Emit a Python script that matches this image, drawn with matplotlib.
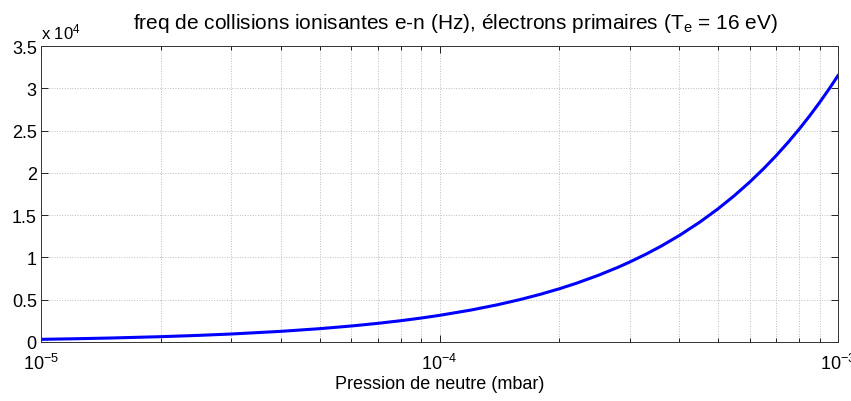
import matplotlib
matplotlib.use("Agg")
import matplotlib.pyplot as plt
from matplotlib.ticker import FuncFormatter, LogLocator, MultipleLocator

plt.rcParams["font.family"] = ["Liberation Sans", "DejaVu Sans"]
plt.rcParams["mathtext.fontset"] = "custom"
plt.rcParams["mathtext.rm"] = "Liberation Sans"
plt.rcParams["mathtext.it"] = "Liberation Sans"

# neutral pressure (mbar) and e-n ionising collision frequency (Hz)
pression = [
    1e-5, 1.2e-5, 1.5e-5, 2e-5, 2.5e-5, 3e-5, 4e-5, 5e-5, 6e-5, 7e-5, 8e-5, 9e-5,
    1e-4, 1.2e-4, 1.4e-4, 1.6e-4, 1.8e-4, 2e-4, 2.2e-4, 2.5e-4, 2.8e-4,
    3e-4, 3.3e-4, 3.6e-4, 4e-4, 4.5e-4, 5e-4, 5.5e-4, 6e-4, 6.5e-4,
    7e-4, 7.5e-4, 8e-4, 8.5e-4, 9e-4, 9.5e-4, 1e-3,
]
freq = [
    315, 378, 473, 630, 788, 945, 1260, 1575, 1890, 2205, 2520, 2835,
    3150, 3780, 4410, 5040, 5670, 6300, 6930, 7875, 8820,
    9450, 10395, 11340, 12600, 14175, 15750, 17325, 18900, 20475,
    22050, 23625, 25200, 26775, 28350, 29925, 31500,
]

GRID = "#bcbcbc"

fig = plt.figure(figsize=(8.51, 4.02), dpi=100)
ax = fig.add_axes([41 / 851, 1 - 343 / 402, 797 / 851, 296 / 402])

ax.plot(pression, freq, color="#0000ff", linewidth=2.2)

ax.set_xscale("log")
ax.set_xlim(1e-5, 1e-3)
ax.set_ylim(0, 35000)
ax.yaxis.set_major_locator(MultipleLocator(5000))
ax.yaxis.set_major_formatter(FuncFormatter(lambda v, _: f"{v / 1e4:g}"))
ax.xaxis.set_major_locator(LogLocator(base=10, numticks=10))
ax.xaxis.set_minor_locator(LogLocator(base=10, subs=range(2, 10), numticks=20))

ax.grid(True, which="major", linestyle=":", color=GRID, linewidth=0.7)
ax.grid(True, which="minor", axis="x", linestyle=":", color=GRID, linewidth=0.7)

ax.tick_params(which="both", direction="in", top=True, right=True,
               labelsize=13, colors="black")
ax.tick_params(which="major", length=5, width=0.6)
ax.tick_params(which="minor", length=3, width=0.6)
ax.tick_params(axis="x", pad=8)
ax.tick_params(axis="y", pad=3)
for s in ax.spines.values():
    s.set_color("#333333")
    s.set_linewidth(0.7)

ax.text(0.0, 1.015, r"x 10$^4$", transform=ax.transAxes, fontsize=12,
        ha="left", va="bottom")

ax.set_title(r"freq de collisions ionisantes e-n (Hz), électrons primaires (T$_\mathregular{e}$ = 16 eV)",
             fontsize=15, pad=13, x=0.52)
ax.set_xlabel("Pression de neutre (mbar)", fontsize=13, labelpad=1)

fig.savefig("out.png", dpi=100)
